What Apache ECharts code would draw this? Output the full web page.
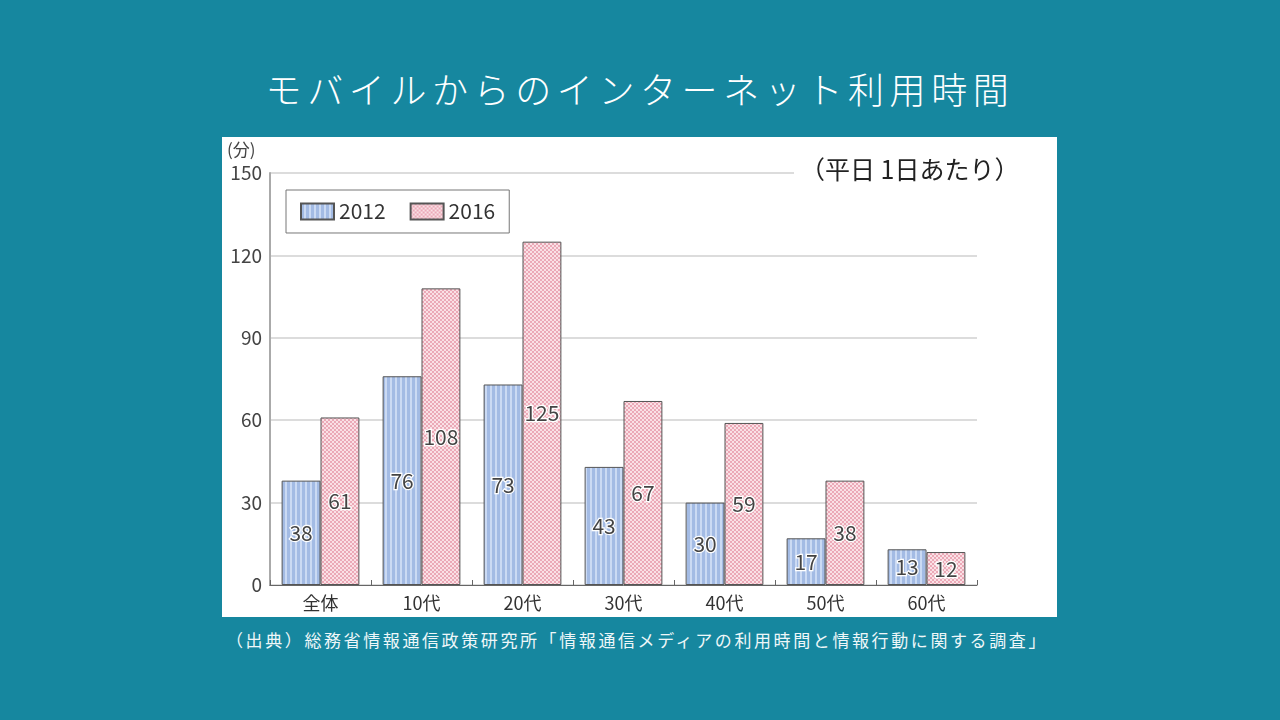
<!DOCTYPE html>
<html>
<head>
<meta charset="utf-8">
<script src="https://cdn.jsdelivr.net/npm/echarts@6/dist/echarts.min.js"></script>
<style>
  html, body { margin: 0; padding: 0; width: 1280px; height: 720px; background: #16879f; overflow: hidden; }
  body { position: relative; font-family: "Noto Sans CJK JP", "Noto Sans", sans-serif; }
  .title {
    position: absolute; left: 0; top: 63px; width: 1280px; text-align: center;
    color: #fff; font-size: 36px; letter-spacing: 5.6px; font-weight: 300; line-height: 50px;
  }
  #panel { position: absolute; left: 222px; top: 137px; width: 835px; height: 480px; background: #fff; }
  .source {
    position: absolute; left: 226px; top: 627px; color: #eef7f9;
    font-size: 17px; letter-spacing: 2.6px; line-height: 26px; white-space: nowrap;
  }
</style>
</head>
<body>
<div class="title">モバイルからのインターネット利用時間</div>
<div id="panel"></div>
<div class="source">（出典）総務省情報通信政策研究所「情報通信メディアの利用時間と情報行動に関する調査」</div>
<script>
  const categories = ['全体', '10代', '20代', '30代', '40代', '50代', '60代'];
  const values2012 = [38, 76, 73, 43, 30, 17, 13];
  const values2016 = [61, 108, 125, 67, 59, 38, 12];
  const yTicks = { min: 0, max: 150, interval: 30 };

  const jpFont = '"Noto Sans CJK JP", "Noto Sans", sans-serif';

  // 縦ストライプ (2012)
  const stripe = document.createElement('canvas');
  stripe.width = 5; stripe.height = 4;
  let ctx = stripe.getContext('2d');
  ctx.fillStyle = '#a3bbe4';
  ctx.fillRect(0, 0, 5, 4);
  ctx.fillStyle = '#cbdaf3';
  ctx.fillRect(3, 0, 2, 4);

  // チェック柄 (2016)
  const checker = document.createElement('canvas');
  checker.width = 4; checker.height = 4;
  ctx = checker.getContext('2d');
  ctx.fillStyle = '#fae0e5';
  ctx.fillRect(0, 0, 4, 4);
  ctx.fillStyle = '#eba9b7';
  ctx.fillRect(0, 0, 2, 2);
  ctx.fillRect(2, 2, 2, 2);

  const chart = echarts.init(document.getElementById('panel'));

  const labelStyle = {
    show: true,
    position: 'inside',
    color: '#444',
    fontSize: 21,
    fontFamily: jpFont,
    textBorderColor: '#fff',
    textBorderWidth: 2.5
  };

  const option = {
    animation: false,
    textStyle: { fontFamily: jpFont },
    grid: { left: 48, right: 80, top: 36, bottom: 32 },
    legend: {
      left: 64, top: 53,
      padding: [11, 14, 11, 14],
      borderColor: '#777', borderWidth: 1,
      icon: 'rect',
      itemWidth: 33, itemHeight: 16, itemGap: 24,
      textStyle: { color: '#333', fontSize: 21, fontFamily: jpFont },
      data: ['2012', '2016']
    },
    xAxis: {
      type: 'category',
      data: categories,
      axisLine: { lineStyle: { color: '#666', width: 1 } },
      axisTick: { show: true, inside: true, length: 5, lineStyle: { color: '#666' } },
      axisLabel: { color: '#333', fontSize: 18, margin: 9, fontFamily: jpFont }
    },
    yAxis: {
      type: 'value',
      min: yTicks.min, max: yTicks.max, interval: yTicks.interval,
      axisLine: { show: true, lineStyle: { color: '#aaa', width: 2 } },
      axisTick: { show: false },
      axisLabel: { color: '#444', fontSize: 19, margin: 8, fontFamily: jpFont },
      splitLine: { lineStyle: { color: '#d0d0d0', width: 1.5 } }
    },
    graphic: [
      { type: 'text', left: 5, top: 4, style: { text: '(分)', fontSize: 17, fill: '#444', fontFamily: jpFont } },
      {
        type: 'text', left: 572, top: 18, z: 100,
        style: {
          text: '（平日 1日あたり）', fontSize: 25, fill: '#222', fontFamily: jpFont,
          backgroundColor: '#fff', padding: [2, 6, 2, 6]
        }
      }
    ],
    series: [
      {
        name: '2012', type: 'bar', data: values2012,
        barCategoryGap: '23%', barGap: '0%',
        itemStyle: { color: { image: stripe, repeat: 'repeat' }, borderColor: '#555', borderWidth: 1 },
        label: labelStyle
      },
      {
        name: '2016', type: 'bar', data: values2016,
        barCategoryGap: '23%', barGap: '0%',
        itemStyle: { color: { image: checker, repeat: 'repeat' }, borderColor: '#555', borderWidth: 1 },
        label: labelStyle
      }
    ]
  };

  chart.setOption(option);
</script>
</body>
</html>
